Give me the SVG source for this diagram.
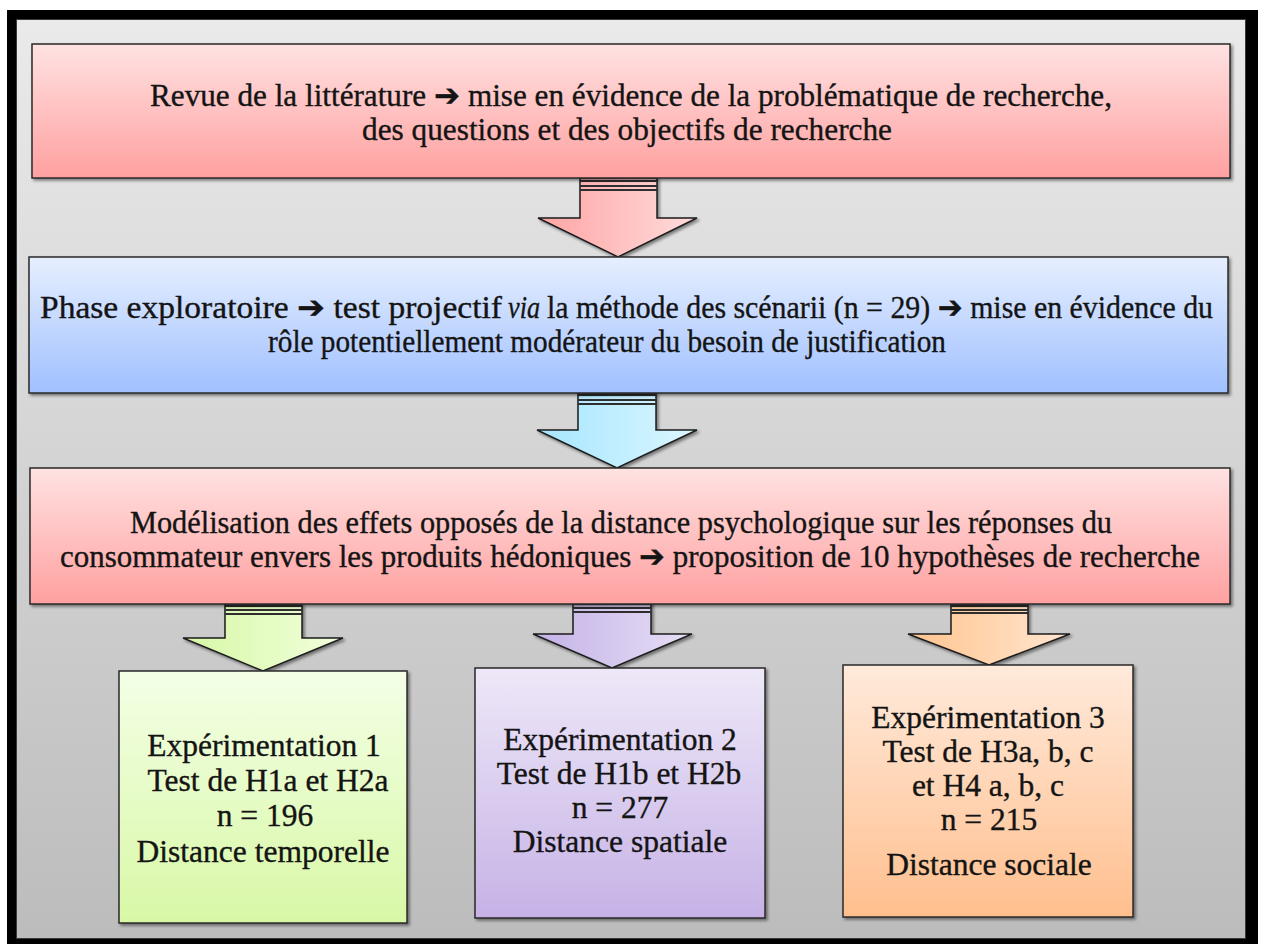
<svg xmlns="http://www.w3.org/2000/svg" width="1264" height="944" viewBox="0 0 1264 944">
<style>
.t{font-family:"Liberation Serif","DejaVu Serif","Times New Roman","DejaVu Sans",serif;font-size:31.5px;fill:#141414;stroke:#141414;stroke-width:0.35px}
.m{text-anchor:middle}
.it{font-style:italic}
.box{stroke:#2a2a2a;stroke-width:1.5}
.arr{stroke:#1e1e1e;stroke-width:1.5;stroke-linejoin:miter}
.st{stroke:#2e2e2e;stroke-width:2}
</style>
<defs>
<linearGradient id="bg" x1="0" y1="0" x2="0" y2="1"><stop offset="0" stop-color="#eaeaea"/><stop offset="1" stop-color="#bcbcbc"/></linearGradient>
<linearGradient id="gPink" x1="0" y1="0" x2="0" y2="1"><stop offset="0" stop-color="#ffe2e2"/><stop offset="1" stop-color="#ffa0a0"/></linearGradient>
<linearGradient id="gBlue" x1="0" y1="0" x2="0" y2="1"><stop offset="0" stop-color="#e6efff"/><stop offset="1" stop-color="#a0c0ff"/></linearGradient>
<linearGradient id="gGreen" x1="0" y1="0" x2="0" y2="1"><stop offset="0" stop-color="#f4ffe6"/><stop offset="1" stop-color="#d8f8a6"/></linearGradient>
<linearGradient id="gPurple" x1="0" y1="0" x2="0" y2="1"><stop offset="0" stop-color="#eee8f8"/><stop offset="1" stop-color="#c6b2e6"/></linearGradient>
<linearGradient id="gOrange" x1="0" y1="0" x2="0" y2="1"><stop offset="0" stop-color="#ffeadb"/><stop offset="1" stop-color="#ffbf8e"/></linearGradient>
<linearGradient id="aPink" x1="0" y1="0" x2="1" y2="0"><stop offset="0" stop-color="#ffa4a4"/><stop offset="1" stop-color="#ffdcdc"/></linearGradient>
<linearGradient id="aBlue" x1="0" y1="0" x2="1" y2="0"><stop offset="0" stop-color="#a6e6ff"/><stop offset="1" stop-color="#dcf6ff"/></linearGradient>
<linearGradient id="aGreen" x1="0" y1="0" x2="1" y2="0"><stop offset="0" stop-color="#d6f8a6"/><stop offset="1" stop-color="#f2ffdc"/></linearGradient>
<linearGradient id="aPurple" x1="0" y1="0" x2="1" y2="0"><stop offset="0" stop-color="#c4b2e6"/><stop offset="1" stop-color="#e6def6"/></linearGradient>
<linearGradient id="aOrange" x1="0" y1="0" x2="1" y2="0"><stop offset="0" stop-color="#ffc48e"/><stop offset="1" stop-color="#ffe6d0"/></linearGradient>
<filter id="sh" x="-5%" y="-5%" width="110%" height="115%"><feDropShadow dx="2" dy="2" stdDeviation="1.5" flood-color="#000" flood-opacity="0.45"/></filter>
</defs>

<g id="frame">
<rect x="7" y="10" width="1251" height="945" fill="#000"/>
<rect x="16.5" y="19.5" width="1229" height="919" fill="url(#bg)" stroke="#3a3a3a" stroke-width="1"/>
</g>

<g id="connectors">
<g id="arrow1" filter="url(#sh)">
<path class="arr" d="M580,178 H657 V218 H697 L618,257 L538,218 H580 Z" fill="url(#aPink)"/>
<path class="st" d="M580,181 H657 M580,186 H657 M580,190 H657"/>
</g>
<g id="arrow2" filter="url(#sh)">
<path class="arr" d="M578,393 H656 V430 H697 L617,468 L537,430 H578 Z" fill="url(#aBlue)"/>
<path class="st" d="M578,395 H656 M578,400 H656 M578,404 H656"/>
</g>
<g id="arrow3" filter="url(#sh)">
<path class="arr" d="M225,604 H302 V638 H343 L263,671 L183,638 H225 Z" fill="url(#aGreen)"/>
<path class="st" d="M225,606 H302 M225,610 H302 M225,614 H302"/>
</g>
<g id="arrow4" filter="url(#sh)">
<path class="arr" d="M573,602 H651 V634 H692 L612,668 L533,634 H573 Z" fill="url(#aPurple)"/>
<path class="st" d="M573,604 H651 M573,608 H651 M573,612 H651"/>
</g>
<g id="arrow5" filter="url(#sh)">
<path class="arr" d="M951,604 H1028 V634 H1070 L989,665 L908,634 H951 Z" fill="url(#aOrange)"/>
<path class="st" d="M951,606 H1028 M951,610 H1028 M951,613 H1028"/>
</g>
</g>

<g id="node1">
<rect class="box" x="32" y="44" width="1198" height="134" fill="url(#gPink)" filter="url(#sh)"/>
<text class="t" x="150" y="106" textLength="962" lengthAdjust="spacingAndGlyphs">Revue de la littérature ➔ mise en évidence de la problématique de recherche,</text>
<text class="t" x="362" y="140" textLength="530" lengthAdjust="spacingAndGlyphs">des questions et des objectifs de recherche</text>
</g>

<g id="node2">
<rect class="box" x="29" y="257" width="1199" height="136" fill="url(#gBlue)" filter="url(#sh)"/>
<text class="t" x="40" y="318" textLength="462" lengthAdjust="spacingAndGlyphs">Phase exploratoire ➔ test projectif</text>
<text class="t it" x="508" y="318" textLength="32" lengthAdjust="spacingAndGlyphs">via</text>
<text class="t" x="547" y="318" textLength="666" lengthAdjust="spacingAndGlyphs">la méthode des scénarii (n = 29) ➔ mise en évidence du</text>
<text class="t" x="268" y="352" textLength="678" lengthAdjust="spacingAndGlyphs">rôle potentiellement modérateur du besoin de justification</text>
</g>

<g id="node3">
<rect class="box" x="30" y="468" width="1200" height="136" fill="url(#gPink)" filter="url(#sh)"/>
<text class="t" x="130" y="533" textLength="982" lengthAdjust="spacingAndGlyphs">Modélisation des effets opposés de la distance psychologique sur les réponses du</text>
<text class="t" x="60" y="567" textLength="1140" lengthAdjust="spacingAndGlyphs">consommateur envers les produits hédoniques ➔ proposition de 10 hypothèses de recherche</text>
</g>

<g id="node4">
<rect class="box" x="119" y="671" width="288" height="252" fill="url(#gGreen)" filter="url(#sh)"/>
<text class="t m" x="264" y="756">Expérimentation 1</text>
<text class="t m" x="268" y="791">Test de H1a et H2a</text>
<text class="t m" x="265" y="826">n = 196</text>
<text class="t m" x="263" y="862">Distance temporelle</text>
</g>

<g id="node5">
<rect class="box" x="475" y="668" width="290" height="250" fill="url(#gPurple)" filter="url(#sh)"/>
<text class="t m" x="620" y="750">Expérimentation 2</text>
<text class="t m" x="619" y="784">Test de H1b et H2b</text>
<text class="t m" x="620" y="818">n = 277</text>
<text class="t m" x="620" y="852">Distance spatiale</text>
</g>

<g id="node6">
<rect class="box" x="843" y="665" width="290" height="252" fill="url(#gOrange)" filter="url(#sh)"/>
<text class="t m" x="988" y="728">Expérimentation 3</text>
<text class="t m" x="988" y="762">Test de H3a, b, c</text>
<text class="t m" x="988" y="796">et H4 a, b, c</text>
<text class="t m" x="989" y="830">n = 215</text>
<text class="t m" x="989" y="875">Distance sociale</text>
</g>
</svg>
